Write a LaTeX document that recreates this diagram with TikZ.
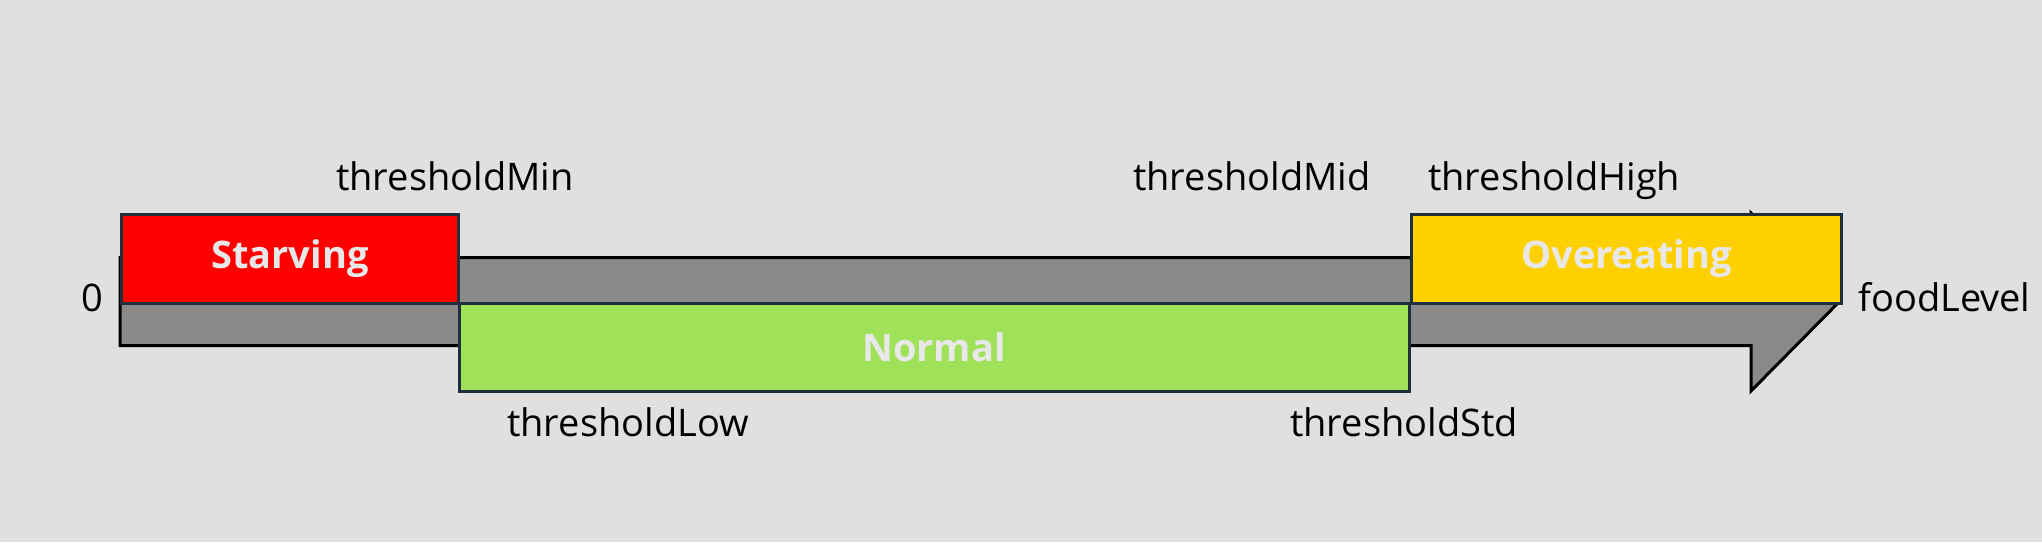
\documentclass[tikz,border=0pt]{standalone}
\usepackage{fontspec}
\setmainfont{Open Sans}
\begin{document}
\begin{tikzpicture}[x=1pt,y=-1pt,
  lbl/.style={inner sep=0pt, anchor=base west, font=\fontsize{38}{41}\selectfont, text=black},
  stbox/.style={draw=boxedge, line width=3pt, inner sep=0pt, anchor=north west,
    font=\bfseries\fontsize{38}{40}\selectfont, text=boxtext}]
\definecolor{bgc}{HTML}{E0E0E0}
\definecolor{barc}{HTML}{8A8A8A}
\definecolor{boxedge}{HTML}{1E2F3D}
\definecolor{boxtext}{HTML}{E8E8E8}
\definecolor{redc}{HTML}{FF0000}
\definecolor{greenc}{HTML}{A0E15A}
\definecolor{yellowc}{HTML}{FFD000}
\fill[bgc] (0,0) rectangle (2042,542);
\useasboundingbox (0,0) rectangle (2042,542);
% axis arrow
\draw[fill=barc, line width=3pt, line join=miter] (120,257.5) -- (1751,257.5) -- (1751,213) -- (1840,301) -- (1751,391) -- (1751,345.5) -- (120,345.5) -- cycle;
% state boxes
\node[stbox, fill=redc, minimum width=337pt, minimum height=89pt] (starving) at (120,212.5) {Starving};
\node[stbox, fill=greenc, minimum width=950pt, minimum height=88pt] (normal) at (457.5,301.5) {Normal};
\node[stbox, fill=yellowc, minimum width=430pt, minimum height=89pt] (overeating) at (1410,212.5) {Overeating};
% labels
\node[lbl] (tmin) at (336,190.7) {thresholdMin};
\node[lbl] (tmid) at (1133,190.7) {thresholdMid};
\node[lbl] (thigh) at (1428,190.7) {thresholdHigh};
\node[lbl] (zero) at (81,311.7) {0};
\node[lbl] (food) at (1858,311.7) {foodLevel};
\node[lbl] (tlow) at (507,436.7) {thresholdLow};
\node[lbl] (tstd) at (1290,436.7) {thresholdStd};
\end{tikzpicture}
\end{document}
